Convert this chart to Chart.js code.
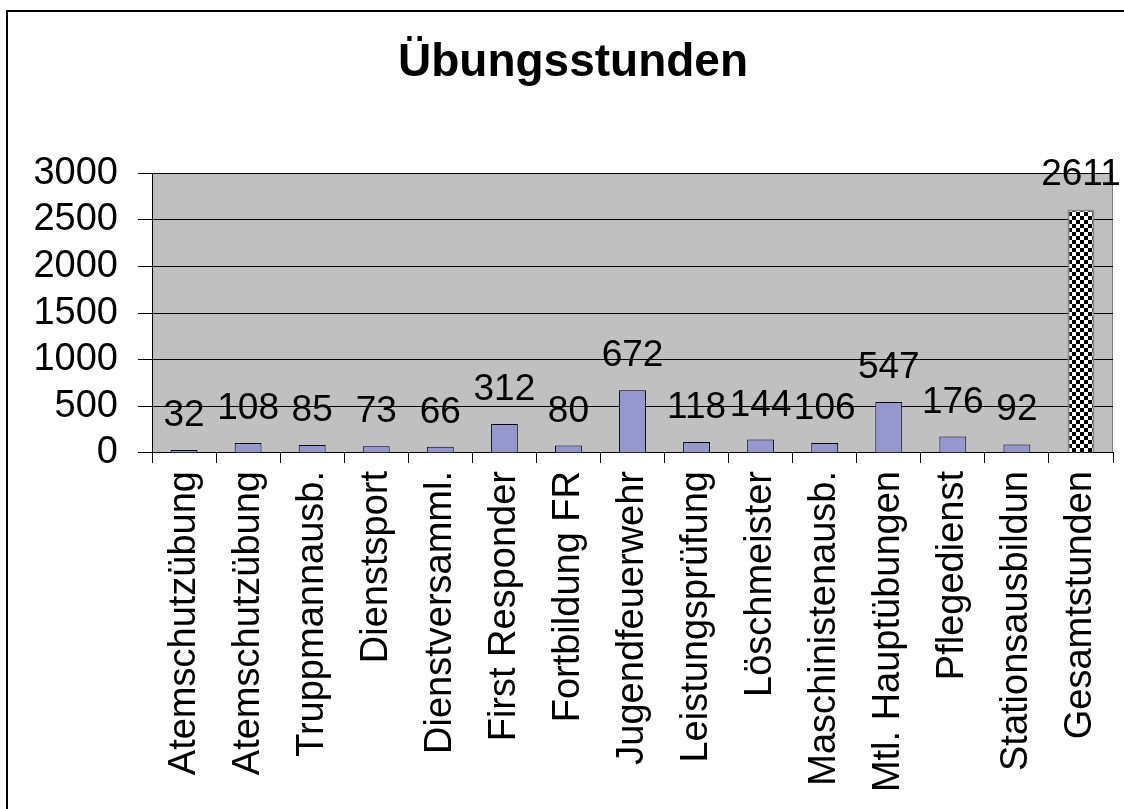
<!DOCTYPE html>
<html>
<head>
<meta charset="utf-8">
<title>Übungsstunden</title>
<script src="https://cdn.jsdelivr.net/npm/chart.js@4/dist/chart.umd.min.js"></script>
<style>
  html, body { margin: 0; padding: 0; background: #fff; }
  #wrap { width: 1124px; height: 809px; position: relative; }
</style>
</head>
<body>
<div id="wrap"><canvas id="chart"></canvas></div>
<script>
// ===== DATEN =====
var categories = [
    "Atemschutzübung", "Atemschutzübung", "Truppmannausb.", "Dienstsport", "Dienstversamml.",
    "First Responder", "Fortbildung FR", "Jugendfeuerwehr", "Leistungsprüfung", "Löschmeister",
    "Maschinistenausb.", "Mtl. Hauptübungen", "Pflegedienst", "Stationsausbildun", "Gesamtstunden"
];
var hours = [32, 108, 85, 73, 66, 312, 80, 672, 118, 144, 106, 547, 176, 92, 2611];
var yTicks = [0, 500, 1000, 1500, 2000, 2500, 3000];

var FONT = "'Liberation Sans', Arial, sans-serif";

// Schachbrettmuster fuer die Gesamtsaeule
function checkerPattern() {
    var c = document.createElement("canvas");
    c.width = 8; c.height = 8;
    var g = c.getContext("2d");
    g.fillStyle = "#fff";
    g.fillRect(0, 0, 8, 8);
    g.fillStyle = "#000";
    g.fillRect(0, 0, 4, 4);
    g.fillRect(4, 4, 4, 4);
    return g.createPattern(c, "repeat");
}

var ctx = document.getElementById("chart").getContext("2d");
var pattern = checkerPattern();

var fills = [];
var borders = [];
var borderWidths = [];
for (var i = 0; i < hours.length; i++) {
    var last = i === hours.length - 1;
    fills.push(last ? pattern : "#9797CF");
    borders.push(last ? "#888888" : "#000000");
    borderWidths.push(last ? 2 : 1);
}

// Hintergrund, Rahmen und Werte
var decorPlugin = {
    id: "decor",
    beforeDraw: function(chart) {
        var c = chart.ctx, a = chart.chartArea;
        c.save();
        c.fillStyle = "#fff";
        c.fillRect(0, 0, chart.width, chart.height);
        c.strokeStyle = "#000";
        c.lineWidth = 2;
        c.strokeRect(7, 11, chart.width + 20, chart.height + 20);
        c.fillStyle = "#C0C0C0";
        c.fillRect(a.left, a.top, a.right - a.left, a.bottom - a.top);
        c.strokeStyle = "#808080";
        c.lineWidth = 1;
        c.beginPath();
        c.moveTo(a.right - 0.5, a.top);
        c.lineTo(a.right - 0.5, a.bottom);
        c.stroke();
        c.restore();
    },
    afterDatasetsDraw: function(chart) {
        var c = chart.ctx;
        var meta = chart.getDatasetMeta(0);
        c.save();
        c.fillStyle = "#000";
        c.font = "37px " + FONT;
        c.textAlign = "center";
        c.textBaseline = "alphabetic";
        meta.data.forEach(function(bar, idx) {
            c.fillText(String(hours[idx]), bar.x, bar.y - 24);
        });
        c.restore();
    }
};

new Chart(ctx, {
    type: "bar",
    data: {
        labels: categories,
        datasets: [{
            data: hours,
            backgroundColor: fills,
            borderColor: borders,
            borderWidth: borderWidths,
            barPercentage: 0.42,
            categoryPercentage: 1.0
        }]
    },
    options: {
        responsive: true,
        maintainAspectRatio: false,
        animation: false,
        layout: { padding: { left: 33, right: 11, top: 0, bottom: 0 } },
        plugins: {
            legend: { display: false },
            tooltip: { enabled: false },
            title: {
                display: true,
                text: "Übungsstunden",
                color: "#000",
                font: { family: FONT, size: 46, weight: "bold" },
                padding: { top: 36, bottom: 82 }
            }
        },
        scales: {
            x: {
                offset: true,
                grid: {
                    offset: true,
                    drawOnChartArea: false,
                    drawTicks: true,
                    tickLength: 10,
                    color: "#000"
                },
                border: { display: true, color: "#000", width: 1 },
                ticks: {
                    color: "#000",
                    font: { family: FONT, size: 38 },
                    minRotation: 90,
                    maxRotation: 90,
                    autoSkip: false,
                    padding: 8
                },
                afterFit: function(scale) {
                    scale.height = 356;
                    scale.paddingLeft = 0;
                    scale.paddingRight = 0;
                }
            },
            y: {
                min: 0,
                max: 3000,
                afterBuildTicks: function(scale) {
                    scale.ticks = yTicks.map(function(v) { return { value: v }; });
                },
                grid: {
                    color: "#000",
                    lineWidth: 1,
                    drawTicks: true,
                    tickLength: 14
                },
                border: { display: true, color: "#000", width: 1 },
                ticks: {
                    color: "#000",
                    font: { family: FONT, size: 38 },
                    padding: 20,
                    autoSkip: false,
                    callback: function(value) { return String(value); }
                },
                afterFit: function(scale) {
                    scale.width = 119;
                    scale.paddingTop = 0;
                    scale.paddingBottom = 0;
                }
            }
        }
    },
    plugins: [decorPlugin]
});
</script>
</body>
</html>
